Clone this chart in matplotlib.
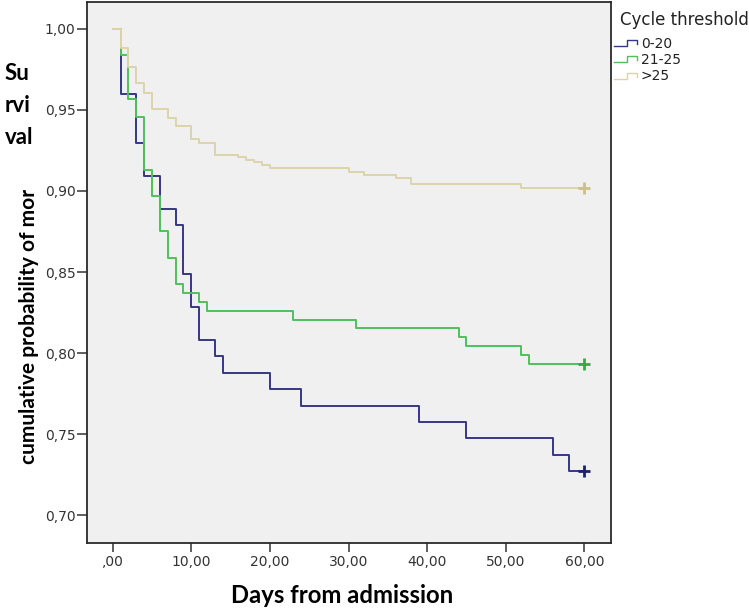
import numpy as np
import matplotlib
matplotlib.use("Agg")
import matplotlib.pyplot as plt
from matplotlib.lines import Line2D
from matplotlib.legend_handler import HandlerBase

# ---------------- data ----------------
group_labels = ["0-20", "21-25", ">25"]

days_0_20 = [0, 1, 3, 4, 6, 8, 9, 10, 11, 13, 14, 20, 24, 39, 45, 56, 58, 60]
surv_0_20 = [1.0, 0.9596, 0.9293, 0.9091, 0.8889, 0.8788, 0.8485, 0.8283, 0.8081,
             0.7980, 0.7879, 0.7778, 0.7677, 0.7576, 0.7475, 0.7374, 0.7273, 0.7273]

days_21_25 = [0, 1, 2, 3, 4, 5, 6, 7, 8, 9, 11, 12, 23, 31, 44, 45, 52, 53, 60]
surv_21_25 = [1.0, 0.9837, 0.9565, 0.9457, 0.9130, 0.8967, 0.8750, 0.8587, 0.8424,
              0.8370, 0.8315, 0.8261, 0.8207, 0.8152, 0.8098, 0.8043, 0.7989, 0.7935, 0.7935]

days_gt25 = [0, 1, 2, 3, 4, 5, 7, 8, 10, 11, 13, 16, 17, 18, 19, 20, 30, 32, 36, 38, 52, 60]
surv_gt25 = [1.0, 0.9879, 0.9765, 0.9663, 0.9601, 0.9503, 0.9447, 0.9400, 0.9318, 0.9297,
             0.9221, 0.9211, 0.9190, 0.9176, 0.9160, 0.9139, 0.9118, 0.9098, 0.9078, 0.9040,
             0.9020, 0.9020]

x_ticks = [0, 10, 20, 30, 40, 50, 60]
x_tick_labels = [",00", "10,00", "20,00", "30,00", "40,00", "50,00", "60,00"]
y_ticks = [0.70, 0.75, 0.80, 0.85, 0.90, 0.95, 1.00]
y_tick_labels = ["0,70", "0,75", "0,80", "0,85", "0,90", "0,95", "1,00"]

# ---------------- styling ----------------
line_colors = ["#353786", "#4fc05c", "#dcd5aa"]
censor_colors = ["#1d2266", "#2fae3e", "#cdbf8a"]

W, H = 749, 608
fig = plt.figure(figsize=(W / 100, H / 100), dpi=100)
fig.patch.set_facecolor("white")
ax = fig.add_axes([86.7 / W, 1 - 542.7 / H, 524.0 / W, 541.2 / H])
ax.set_facecolor("#f0f0f0")

series = [(days_0_20, surv_0_20), (days_21_25, surv_21_25), (days_gt25, surv_gt25)]
handles = []
for (d, s), lab, c, mc in zip(series, group_labels, line_colors, censor_colors):
    ln, = ax.step(d, s, where="post", color=c, lw=1.4, label=lab)
    handles.append(ln)
    ax.plot(d[-1], s[-1], marker="+", ms=8, mew=2.0, color=mc, linestyle="none")

ax.set_xlim(-3.31, 63.36)
ax.set_ylim(0.6832, 1.0167)
ax.set_xticks(x_ticks)
ax.set_xticklabels(x_tick_labels)
ax.set_yticks(y_ticks)
ax.set_yticklabels(y_tick_labels)

for sp in ax.spines.values():
    sp.set_color("#2a2a2a")
    sp.set_linewidth(1.3)

ax.tick_params(axis="both", direction="out", width=1.1, color="#333333",
               labelsize=10, labelcolor="#333333")
ax.tick_params(axis="x", length=6.5, pad=2.2)
ax.tick_params(axis="y", length=7.4, pad=0.6)

ax.set_xlabel("Days from admission", fontfamily="Lato", fontweight="bold",
              fontsize=17.2, va="baseline")
ax.xaxis.set_label_coords(0.4866, -0.112)
ax.set_ylabel("cumulative probability of mor", fontfamily="Lato", fontweight="bold",
              fontsize=15, va="center")
ax.yaxis.set_label_coords(-0.110, 0.400)

for txt, yb in zip(["Su", "rvi", "val"], [80, 112.5, 144]):
    fig.text(5 / W, 1 - yb / H, txt, fontfamily="Lato", fontweight="bold",
             fontsize=16, ha="left", va="baseline")


class StepHandler(HandlerBase):
    def create_artists(self, legend, orig_handle, xdescent, ydescent, width,
                       height, fontsize, trans):
        xs = np.array([0.0, 0.55, 0.55, 1.0, 1.0]) * width - xdescent
        ys = np.array([0.2, 0.2, 0.82, 0.82, 0.38]) * height - ydescent
        ln = Line2D(xs, ys, color=orig_handle.get_color(), lw=1.0)
        ln.set_transform(trans)
        return [ln]


fig.text(620 / W, 1 - 25 / H, "Cycle threshold", fontfamily="DejaVu Sans",
         fontsize=12, color="#222222", ha="left", va="baseline")

leg = fig.legend(handles, group_labels, loc="upper left",
                 bbox_to_anchor=(614 / W, 1 - 36.5 / H),
                 frameon=False, borderpad=0, borderaxespad=0,
                 prop={"family": "DejaVu Sans", "size": 10},
                 handlelength=1.68, handleheight=0.7, handletextpad=0.25,
                 labelspacing=0.18,
                 handler_map={Line2D: StepHandler()})
for t in leg.get_texts():
    t.set_color("#222222")

fig.savefig("out.png", dpi=100)
